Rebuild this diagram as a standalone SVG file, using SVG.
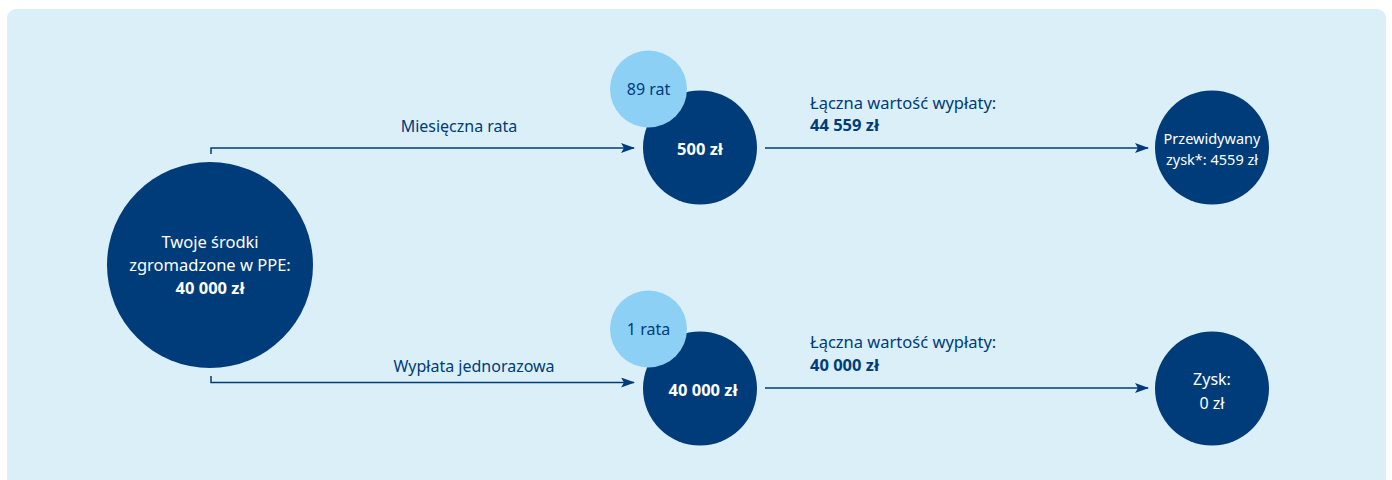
<svg xmlns="http://www.w3.org/2000/svg" width="1392" height="480" viewBox="0 0 1392 480">
<style>
.dk{fill:#003c7a}
.lt{fill:#8dd0f5}
text{font-family:"Noto Sans","Open Sans",sans-serif}
.w{fill:#ffffff;text-anchor:middle}
.b{fill:#003c7a}
.c{text-anchor:middle}
.bold{font-weight:bold}
.ln{stroke:#003c7a;stroke-width:1.5;fill:none}
</style>
<defs>
<marker id="ah" markerWidth="14" markerHeight="10" refX="13" refY="5" orient="auto" markerUnits="userSpaceOnUse">
<path d="M0,0 L14,5 L0,10 L3,5 Z" fill="#003c7a"/>
</marker>
</defs>
<rect x="7" y="9" width="1379" height="490" rx="9" fill="#dbeff9"/>
<g id="connectors">
<path class="ln" d="M211,154 V148 H634" marker-end="url(#ah)"/>
<path class="ln" d="M211,376 V382.5 H634" marker-end="url(#ah)"/>
<path class="ln" d="M765,148 H1148" marker-end="url(#ah)"/>
<path class="ln" d="M765,388 H1148" marker-end="url(#ah)"/>
<text class="b c" x="459" y="132" font-size="16">Miesięczna rata</text>
<text class="b c" x="474" y="372" font-size="16">Wypłata jednorazowa</text>
<text class="b" x="810" y="109" font-size="16.5">Łączna wartość wypłaty:</text>
<text class="b bold" x="810" y="131" font-size="16.5">44 559 zł</text>
<text class="b" x="810" y="348" font-size="16.5">Łączna wartość wypłaty:</text>
<text class="b bold" x="810" y="371" font-size="16.5">40 000 zł</text>
</g>
<g id="source">
<circle class="dk" cx="210" cy="265" r="103"/>
<text class="w" x="210" y="248" font-size="16.5">Twoje środki</text>
<text class="w" x="210" y="271" font-size="16.5">zgromadzone w PPE:</text>
<text class="w bold" x="210" y="294" font-size="16.5">40 000 zł</text>
</g>
<g id="monthly">
<circle class="dk" cx="700" cy="147.5" r="57"/>
<text class="w bold" x="700" y="155" font-size="16.5">500 zł</text>
</g>
<g id="monthly-count">
<circle class="lt" cx="648.5" cy="89" r="38.5"/>
<text class="b c" x="648.5" y="95" font-size="16">89 rat</text>
</g>
<g id="lump">
<circle class="dk" cx="700" cy="388.5" r="57"/>
<text class="w bold" x="703" y="396" font-size="16.5">40 000 zł</text>
</g>
<g id="lump-count">
<circle class="lt" cx="648.5" cy="329" r="38.5"/>
<text class="b c" x="648.5" y="335" font-size="16">1 rata</text>
</g>
<g id="profit-monthly">
<circle class="dk" cx="1212" cy="147.5" r="57"/>
<text class="w" x="1212" y="144" font-size="14.5">Przewidywany</text>
<text class="w" x="1212" y="165" font-size="14.5">zysk*: 4559 zł</text>
</g>
<g id="profit-lump">
<circle class="dk" cx="1212" cy="388.5" r="57"/>
<text class="w" x="1212" y="385" font-size="16">Zysk:</text>
<text class="w" x="1212" y="409" font-size="16">0 zł</text>
</g>
</svg>
